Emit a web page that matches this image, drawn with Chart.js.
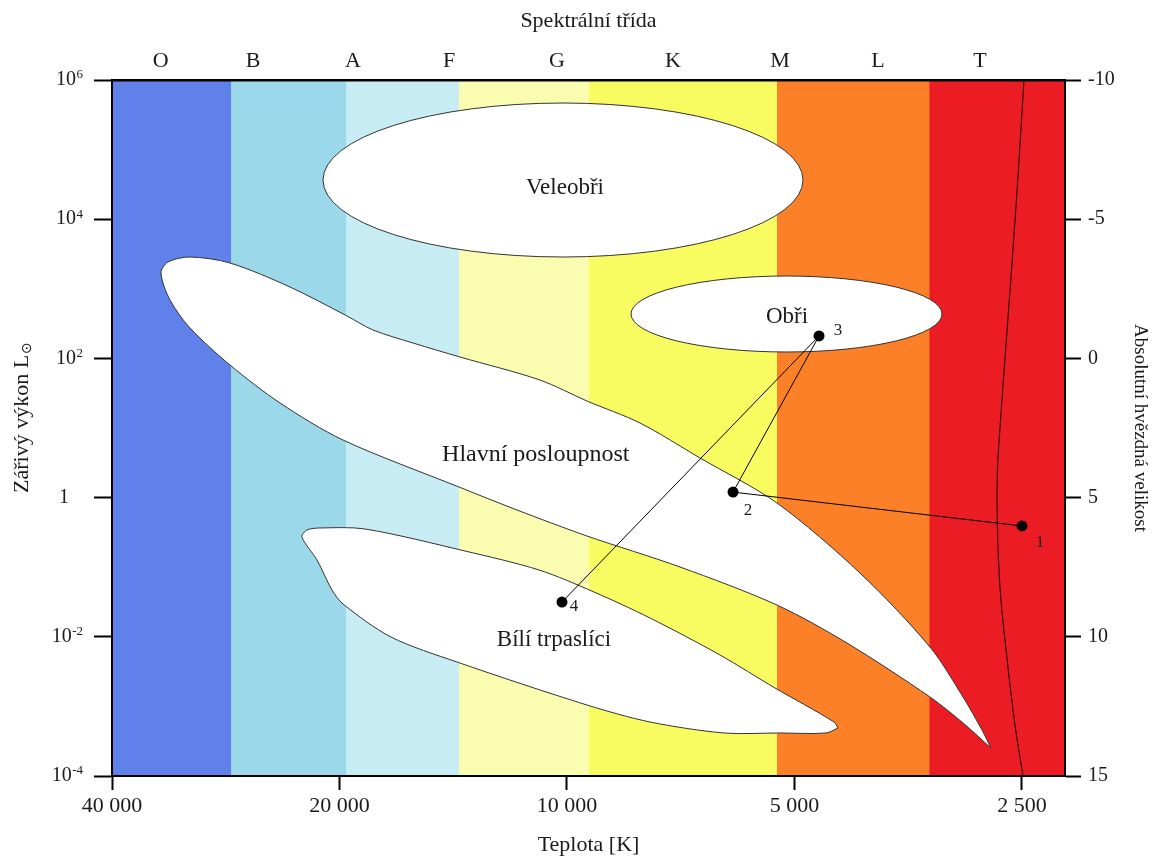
<!DOCTYPE html>
<html>
<head>
<meta charset="utf-8">
<script src="https://cdn.jsdelivr.net/npm/chart.js@4.4.0/dist/chart.umd.min.js"></script>
<style>
html,body{margin:0;padding:0;background:#fff;}
#wrap{width:1154px;height:859px;position:relative;}
</style>
</head>
<body>
<div id="wrap"><canvas id="c"></canvas></div>
<script>
// ---- axes ----
const tempTicks = [40000, 20000, 10000, 5000, 2500];
const tempMin = 2193, tempMax = 40000;
const lumTicks = [1e-4, 1e-2, 1, 1e2, 1e4, 1e6];
const lumExponents = ['-4', '-2', '', '2', '4', '6'];
const lumMin = 1e-4, lumMax = 1e6;
const magMin = -10, magMax = 15, magStep = 5;
const spectralClasses = ['O', 'B', 'A', 'F', 'G', 'K', 'M', 'L', 'T'];
const spectralTemps = [34495, 26030, 19194, 14326, 10309, 7240, 5226, 3877, 2841];

// ---- colour bands (temperature edges) ----
const bandEdges = [40000, 27830, 19606, 13896, 9352, 5274, 3314, 2193];
const bandColors = ['#6080EA', '#9AD8EA', '#C8ECF4', '#FAFCB0', '#F8FC60', '#FC8028', '#EC1C24'];

// ---- main sequence outline (T, L) ----
const mainSeqT = [2748, 2992, 3309, 4261, 5274, 7088, 9409, 11646, 13897, 19788, 23975, 27921, 31538, 33521,
                  34453, 33727, 31538, 27921, 23256, 19548, 18059, 15987, 13854, 10857, 9409, 8006, 6668, 5274, 4096, 3309, 2992, 2824, 2748];
const mainSeqL = [2.525e-4, 5.78e-4, 0.001365, 0.00814, 0.0286, 0.1007, 0.2807, 0.6635, 1.420, 6.72, 22.87, 80.4, 273.5, 690.4,
                  1687, 2427, 2863, 2348, 1061, 406.7, 255.9, 166.4, 104.7, 48.9, 24.4, 11.8, 3.71, 0.836, 0.0825, 0.00713, 0.001365, 4.58e-4, 2.525e-4];

// ---- white dwarf outline (T, L) ----
const whiteDwarfT = [4379, 4542, 5226, 6198, 7766, 9409, 13982, 17096, 19788, 20462, 21419, 22422, 22082, 21225, 18504, 13645, 10890, 9210, 7766, 6274, 5306, 4433, 4379];
const whiteDwarfL = [4.89e-4, 4.15e-4, 4.15e-4, 4.15e-4, 5.97e-4, 0.001047, 0.004343, 0.00993, 0.0296, 0.0470, 0.1269, 0.2716, 0.3423, 0.3658, 0.3539, 0.1709, 0.0912, 0.0440, 0.01863, 0.005477, 0.001838, 5.97e-4, 4.89e-4];

// ---- giant regions (ellipses: T left/right, L top/bottom) ----
const ellipseTLeft = [21032, 8228];
const ellipseTRight = [4872, 3190];
const ellipseLTop = [4.67e5, 1527];
const ellipseLBottom = [2863, 123.6];

// ---- thin curve on the right ----
const curveT = [2485, 2541, 2619, 2673, 2695, 2695, 2673, 2619, 2554, 2492];
const curveL = [1e6, 2.08e4, 217, 10.3, 2.25, 0.43, 0.050, 0.0053, 5.4e-4, 1e-4];

// ---- evolutionary track points ----
const starNames = ['1', '2', '3', '4'];
const starT = [2500, 6030, 4640, 10154];
const starL = [0.391, 1.20, 210, 0.0316];

// ---- region labels ----
const regionNames = ['Veleobři', 'Obři', 'Hlavní posloupnost', 'Bílí trpaslíci'];
const regionT = [10061, 5116, 11000, 10403];
const regionL = [2.81e4, 393, 4.09, 0.009];

const FONT = '"Liberation Serif", "Times New Roman", serif';
const TXT = '#1a1a1a';
Chart.defaults.font.family = FONT;

const toPts = (T, L) => T.map((t, i) => ({x: t, y: L[i]}));
const fmtTemp = v => String(v).replace(/\B(?=(\d{3})+(?!\d))/g, ' ');

const bandPlugin = {
  id: 'bands',
  beforeDraw(chart) {
    const {ctx, chartArea: a, scales: {x}} = chart;
    ctx.save();
    ctx.fillStyle = '#fff';
    ctx.fillRect(0, 0, chart.width, chart.height);
    for (let i = 0; i < bandColors.length; i++) {
      const x0 = x.getPixelForValue(bandEdges[i]);
      const x1 = x.getPixelForValue(bandEdges[i + 1]);
      ctx.fillStyle = bandColors[i];
      ctx.fillRect(Math.min(x0, x1), a.top, Math.abs(x1 - x0) + 0.5, a.bottom - a.top);
    }
    ctx.restore();
  }
};

const ellipsePlugin = {
  id: 'ellipses',
  beforeDatasetsDraw(chart) {
    const {ctx, scales: {x, y}} = chart;
    ctx.save();
    for (let i = 0; i < ellipseTLeft.length; i++) {
      const xl = x.getPixelForValue(ellipseTLeft[i]);
      const xr = x.getPixelForValue(ellipseTRight[i]);
      const yt = y.getPixelForValue(ellipseLTop[i]);
      const yb = y.getPixelForValue(ellipseLBottom[i]);
      ctx.beginPath();
      ctx.ellipse((xl + xr) / 2, (yt + yb) / 2, Math.abs(xr - xl) / 2, Math.abs(yb - yt) / 2, 0, 0, Math.PI * 2);
      ctx.fillStyle = '#fff';
      ctx.fill();
      ctx.lineWidth = 1;
      ctx.strokeStyle = '#333';
      ctx.stroke();
    }
    ctx.restore();
  }
};

const labelPlugin = {
  id: 'labels',
  afterDatasetsDraw(chart) {
    const {ctx, scales: {x, y}} = chart;
    ctx.save();
    ctx.textAlign = 'center';
    ctx.textBaseline = 'middle';
    ctx.fillStyle = TXT;
    const sizes = [23, 23, 24, 23];
    regionNames.forEach((n, i) => {
      ctx.font = sizes[i] + 'px ' + FONT;
      ctx.fillText(n, x.getPixelForValue(regionT[i]), y.getPixelForValue(regionL[i]));
    });
    const offs = [[18, 17], [15, 18], [19, -5], [12, 5]];
    ctx.font = '17px ' + FONT;
    starNames.forEach((n, i) => {
      ctx.fillText(n, x.getPixelForValue(starT[i]) + offs[i][0], y.getPixelForValue(starL[i]) + offs[i][1]);
    });
    ctx.restore();
  },
  afterDraw(chart) {
    const {ctx, scales: {y}} = chart;
    ctx.save();
    ctx.fillStyle = TXT;
    ctx.textBaseline = 'middle';
    // luminosity tick labels with superscript exponents
    lumTicks.forEach((v, i) => {
      const py = y.getPixelForValue(v);
      const exp = lumExponents[i];
      if (!exp) {
        ctx.font = '20px ' + FONT;
        ctx.textAlign = 'center';
        ctx.fillText('1', 64, py);
        return;
      }
      ctx.font = '13px ' + FONT;
      const we = ctx.measureText(exp).width;
      ctx.textAlign = 'right';
      ctx.fillText(exp, 83, py - 5);
      ctx.font = '20px ' + FONT;
      ctx.fillText('10', 83 - we - 0.5, py);
    });
    // left axis title with subscript sun symbol
    const a = chart.chartArea;
    ctx.translate(22, 493);
    ctx.rotate(-Math.PI / 2);
    ctx.textAlign = 'left';
    ctx.font = '22px ' + FONT;
    const main = 'Zářivý výkon L';
    ctx.fillText(main, 0, 0);
    const w = ctx.measureText(main).width;
    ctx.font = '14px "DejaVu Sans", ' + FONT;
    ctx.fillText('⊙', w + 1, 5);
    ctx.restore();
  }
};

const tickFont = {family: FONT, size: 22};
const titleFont = {family: FONT, size: 22};

new Chart(document.getElementById('c'), {
  type: 'scatter',
  data: {
    datasets: [
      {
        label: 'track',
        data: toPts(starT, starL),
        showLine: true,
        borderColor: '#000',
        borderWidth: 1,
        pointRadius: 5.5,
        pointBackgroundColor: '#000',
        pointBorderColor: '#000',
        pointBorderWidth: 0,
        tension: 0,
        order: 0
      },
      {
        label: 'curve',
        data: toPts(curveT, curveL),
        showLine: true,
        borderColor: '#3c0a0a',
        borderWidth: 1.2,
        pointRadius: 0,
        tension: 0.4,
        order: 1
      },
      {
        label: 'main sequence',
        data: toPts(mainSeqT, mainSeqL),
        showLine: true,
        fill: 'shape',
        backgroundColor: '#ffffff',
        borderColor: '#333',
        borderWidth: 1,
        pointRadius: 0,
        tension: 0.3,
        order: 2
      },
      {
        label: 'white dwarfs',
        data: toPts(whiteDwarfT, whiteDwarfL),
        showLine: true,
        fill: 'shape',
        backgroundColor: '#ffffff',
        borderColor: '#333',
        borderWidth: 1,
        pointRadius: 0,
        tension: 0.3,
        order: 3
      }
    ]
  },
  options: {
    responsive: true,
    maintainAspectRatio: false,
    animation: false,
    layout: {padding: 0},
    plugins: {legend: {display: false}, tooltip: {enabled: false}},
    scales: {
      x: {
        type: 'logarithmic', position: 'bottom', reverse: true, min: tempMin, max: tempMax,
        afterBuildTicks: s => { s.ticks = tempTicks.map(v => ({value: v})); },
        afterFit: s => { s.height = 83; },
        ticks: {callback: v => fmtTemp(v), autoSkip: false, maxRotation: 0, color: TXT, font: tickFont, padding: 3},
        grid: {drawOnChartArea: false, drawTicks: true, tickLength: 14, tickWidth: 2, tickColor: '#000'},
        border: {display: true, color: '#000', width: 2},
        title: {display: true, text: 'Teplota [K]', color: TXT, font: titleFont, padding: {top: 0, bottom: 1}}
      },
      x2: {
        type: 'logarithmic', position: 'top', reverse: true, min: tempMin, max: tempMax,
        afterBuildTicks: s => { s.ticks = spectralTemps.map(v => ({value: v})); },
        afterFit: s => { s.height = 80; },
        ticks: {callback: (v, i) => spectralClasses[i], autoSkip: false, maxRotation: 0, color: TXT, font: tickFont, padding: 6},
        grid: {drawOnChartArea: false, drawTicks: false},
        border: {display: true, color: '#000', width: 2.5},
        title: {display: true, text: 'Spektrální třída', color: TXT, font: titleFont, padding: {top: 8, bottom: 0}}
      },
      y: {
        type: 'logarithmic', position: 'left', min: lumMin, max: lumMax,
        afterBuildTicks: s => { s.ticks = lumTicks.map(v => ({value: v})); },
        afterFit: s => { s.width = 112; },
        ticks: {callback: () => '', autoSkip: false, font: tickFont, padding: 10},
        grid: {drawOnChartArea: false, drawTicks: true, tickLength: 18, tickWidth: 2, tickColor: '#000'},
        border: {display: true, color: '#000', width: 2},
        title: {display: false}
      },
      y2: {
        type: 'linear', position: 'right', reverse: true, min: magMin, max: magMax,
        afterFit: s => { s.width = 89; },
        ticks: {stepSize: magStep, callback: v => String(v), autoSkip: false, color: TXT, font: {family: FONT, size: 20}, padding: 7},
        grid: {drawOnChartArea: false, drawTicks: true, tickLength: 16, tickWidth: 2, tickColor: '#000'},
        border: {display: true, color: '#000', width: 2},
        title: {display: true, text: 'Absolutní hvězdná velikost', color: TXT, font: {family: FONT, size: 19}, padding: {top: 3, bottom: 0}}
      }
    }
  },
  plugins: [bandPlugin, ellipsePlugin, labelPlugin]
});
</script>
</body>
</html>
